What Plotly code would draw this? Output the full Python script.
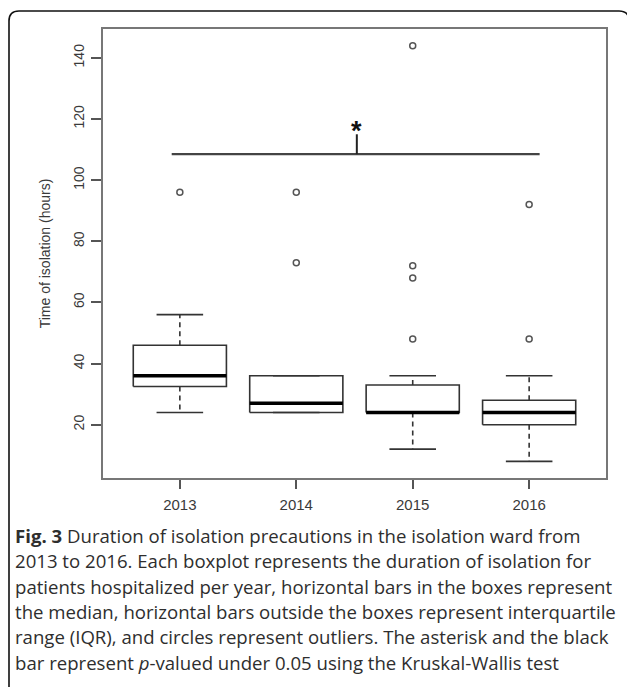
import plotly.graph_objects as go

# ---------------- data ----------------
years = ["2013", "2014", "2015", "2016"]
q1 = [32.5, 24, 24, 20]
median = [36, 27, 24, 24]
q3 = [46, 36, 33, 28]
whisker_low = [24, 24, 12, 8]
whisker_high = [56, 36, 36, 36]
outliers = [[96], [96, 73], [144, 72, 68, 48], [92, 48]]

sig_bar_x = [0.93, 4.09]
sig_bar_y = 108.5
sig_tick_top = 115
sig_star_x = 2.52
sig_star_y = 116.0

caption_lines = [
    "<b>Fig. 3</b> Duration of isolation precautions in the isolation ward from",
    "2013 to 2016. Each boxplot represents the duration of isolation for",
    "patients hospitalized per year, horizontal bars in the boxes represent",
    "the median, horizontal bars outside the boxes represent interquartile",
    "range (IQR), and circles represent outliers. The asterisk and the black",
    "bar represent <i>p</i>-valued under 0.05 using the Kruskal-Wallis test",
]

# ---------------- layout geometry ----------------
W, H = 627, 687
ML, MR, MT, MB = 103, 21, 29, 209
PW, PH = W - ML - MR, H - MT - MB


def px_x(px):
    return (px - ML) / PW


def px_y(py):
    return (H - MB - py) / PH


xpos = [i + 1 for i in range(len(years))]
allv = whisker_low + whisker_high + [v for o in outliers for v in o]
lo, hi = min(allv), max(allv)
yrange = [lo - 0.04 * (hi - lo), hi + 0.04 * (hi - lo)]
xrange = [0.5 - 0.04 * 4, len(years) + 0.5 + 0.04 * 4]

BW = 0.4
CAP = 0.2
LINE = "#333333"

fig = go.Figure()

# boxes
bx, by = [], []
for x, a, b in zip(xpos, q1, q3):
    bx += [x - BW, x + BW, x + BW, x - BW, x - BW, None]
    by += [a, a, b, b, a, None]
fig.add_trace(go.Scatter(x=bx, y=by, mode="lines", line=dict(color=LINE, width=1.6),
                         hoverinfo="skip", showlegend=False))

# whiskers (dashed)
wx, wy = [], []
for x, a, b, l, h in zip(xpos, q1, q3, whisker_low, whisker_high):
    wx += [x, x, None, x, x, None]
    wy += [b, h, None, a, l, None]
fig.add_trace(go.Scatter(x=wx, y=wy, mode="lines",
                         line=dict(color=LINE, width=1.6, dash="5px,4px"),
                         hoverinfo="skip", showlegend=False))

# caps
cx, cy = [], []
for x, l, h in zip(xpos, whisker_low, whisker_high):
    cx += [x - CAP, x + CAP, None, x - CAP, x + CAP, None]
    cy += [l, l, None, h, h, None]
fig.add_trace(go.Scatter(x=cx, y=cy, mode="lines", line=dict(color=LINE, width=1.6),
                         hoverinfo="skip", showlegend=False))

# medians
mx, my = [], []
for x, m in zip(xpos, median):
    mx += [x - BW, x + BW, None]
    my += [m, m, None]
fig.add_trace(go.Scatter(x=mx, y=my, mode="lines", line=dict(color="#000000", width=3.5),
                         hoverinfo="skip", showlegend=False))

# outliers
ox, oy = [], []
for x, o in zip(xpos, outliers):
    ox += [x] * len(o)
    oy += o
fig.add_trace(go.Scatter(x=ox, y=oy, mode="markers",
                         marker=dict(symbol="circle-open", size=6, color="#555555",
                                     line=dict(width=1.5, color="#555555")),
                         hoverinfo="skip", showlegend=False))

# significance bar
fig.add_trace(go.Scatter(x=sig_bar_x, y=[sig_bar_y, sig_bar_y], mode="lines",
                         line=dict(color="#444444", width=2.2),
                         hoverinfo="skip", showlegend=False))
fig.add_trace(go.Scatter(x=[sig_star_x, sig_star_x], y=[sig_bar_y, sig_tick_top], mode="lines",
                         line=dict(color="#222222", width=2),
                         hoverinfo="skip", showlegend=False))
fig.add_annotation(x=sig_star_x, y=sig_star_y, xref="x", yref="y", text="<b>*</b>",
                   showarrow=False, font=dict(family="Liberation Sans, Arial", size=27, color="#111111"),
                   yanchor="middle")

# caption
caption_y = [535, 560.5, 586, 611, 636.5, 662]
for line, py in zip(caption_lines, caption_y):
    fig.add_annotation(x=px_x(13), y=px_y(py), xref="paper", yref="paper", text=line,
                       showarrow=False, xanchor="left", yanchor="middle", align="left",
                       font=dict(family="Open Sans", size=18.6, color="#2e2e2e"))

# outer rounded frame
x0, x1 = px_x(9), px_x(629)
y0, y1 = px_y(11), px_y(700)
rx = 10 / PW
ry = 10 / PH
path = (f"M {x0},{y1} L {x0},{y0 - ry} Q {x0},{y0} {x0 + rx},{y0} "
        f"L {x1 - rx},{y0} Q {x1},{y0} {x1},{y0 - ry} L {x1},{y1}")
fig.add_shape(type="path", path=path, xref="paper", yref="paper",
              line=dict(color="#111111", width=1.6), layer="above")

fig.update_layout(
    width=W, height=H,
    margin=dict(l=ML, r=MR, t=MT, b=MB, pad=0),
    paper_bgcolor="white", plot_bgcolor="white",
    showlegend=False,
    xaxis=dict(range=xrange, tickvals=xpos, ticktext=years, showgrid=False, zeroline=False,
               showline=True, mirror=True, linecolor="#777777", linewidth=2,
               ticks="outside", ticklen=9, tickwidth=1.5, tickcolor="#555555",
               tickfont=dict(family="Liberation Sans, Arial", size=15, color="#3a3a3a"),
               ticklabelstandoff=3),
    yaxis=dict(range=yrange, dtick=20, tick0=0, showgrid=False, zeroline=False,
               showline=True, mirror=True, linecolor="#777777", linewidth=2,
               ticks="outside", ticklen=10, tickwidth=1.5, tickcolor="#555555",
               tickangle=-90,
               tickfont=dict(family="Liberation Sans, Arial", size=14, color="#3a3a3a"),
               ticklabelstandoff=1,
               title=dict(text="Time of isolation (hours)", standoff=18,
                          font=dict(family="Liberation Sans, Arial", size=14, color="#3a3a3a"))),
)

fig.write_html("out.html", config={"displayModeBar": False},
               post_script="document.body.style.margin='0';")
